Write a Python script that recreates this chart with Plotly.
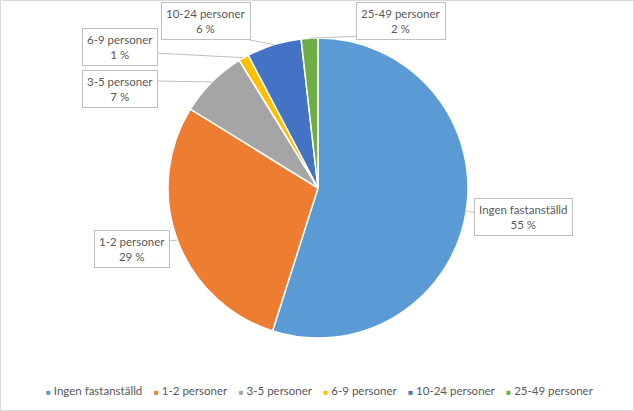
import math
import plotly.graph_objects as go

# ---- data ----
categories = ["Ingen fastanställd", "1-2 personer", "3-5 personer",
              "6-9 personer", "10-24 personer", "25-49 personer"]
values = [54.9, 28.9, 7.4, 1.1, 5.9, 1.8]
colors = ["#5B9BD5", "#ED7D31", "#A5A5A5", "#FFC000", "#4472C4", "#70AD47"]

# ---- layout constants (pixels) ----
W, H = 634, 411
CX, CY, R = 318, 188, 150
FONT = "Lato"
TXT = "#595959"

def px(x):
    return x / W

def py(y):
    return 1 - y / H

# label box centres and leader-line attach points (pixels)
box_centres = [(523.5, 216.5), (132, 248.5), (119.5, 89), (119.5, 47), (205.5, 21), (401.5, 21)]
attach = [(477, 213), (167, 241), (155, 81), (155, 53), (240, 38), (362, 36)]

fig = go.Figure(go.Pie(
    labels=categories,
    values=values,
    sort=False,
    direction="clockwise",
    rotation=0,
    textinfo="none",
    hoverinfo="label+percent",
    marker=dict(colors=colors, line=dict(color="white", width=1.5)),
    domain=dict(x=[px(CX - R), px(CX + R)], y=[py(CY + R), py(CY - R)]),
    showlegend=False,
))

total = sum(values)
annotations = []
shapes = []
cum = 0.0
for i, (cat, v) in enumerate(zip(categories, values)):
    mid = (cum + v / 2) / total
    cum += v
    ang = 2 * math.pi * mid
    tx = CX + R * math.sin(ang)
    ty = CY - R * math.cos(ang)
    ax, ay = attach[i]
    shapes.append(dict(type="line", xref="paper", yref="paper",
                       x0=px(tx), y0=py(ty), x1=px(ax), y1=py(ay),
                       line=dict(color="#bfbfbf", width=1)))
    bx, by = box_centres[i]
    pct = round(v / total * 100)
    annotations.append(dict(
        xref="paper", yref="paper", x=px(bx), y=py(by),
        xanchor="center", yanchor="middle", showarrow=False,
        text=f"{cat}<br>{pct} %", align="center",
        font=dict(family=FONT, size=11.5, color=TXT),
        bgcolor="white", bordercolor="#bfbfbf", borderwidth=1, borderpad=4,
    ))

# legend as a single text row
sep = "\u00a0" * 4
legend_text = sep.join(
    f"<span style='color:{c};font-size:8px'>■</span>\u00a0{n}"
    for n, c in zip(categories, colors)
)
annotations.append(dict(
    xref="paper", yref="paper", x=px(320), y=py(390),
    xanchor="center", yanchor="middle", showarrow=False,
    text=legend_text, font=dict(family=FONT, size=11.5, color=TXT),
))

# chart border
shapes.append(dict(type="rect", xref="paper", yref="paper",
                   x0=px(0.5), y0=py(H - 0.5), x1=px(W - 0.5), y1=py(0.5),
                   line=dict(color="#d9d9d9", width=1), fillcolor="rgba(0,0,0,0)"))

fig.update_layout(
    width=W, height=H,
    margin=dict(l=0, r=0, t=0, b=0),
    paper_bgcolor="white", plot_bgcolor="white",
    annotations=annotations, shapes=shapes,
    font=dict(family=FONT, color=TXT),
)

fig.write_html("out.html")
